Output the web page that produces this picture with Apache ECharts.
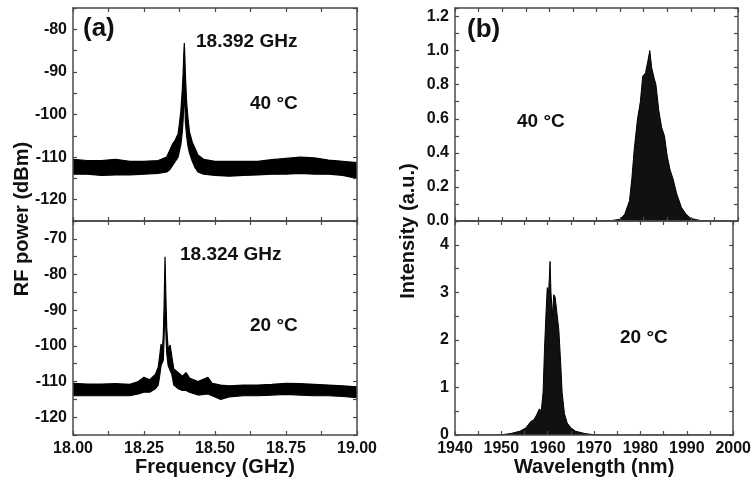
<!DOCTYPE html>
<html><head><meta charset="utf-8">
<script src="https://cdn.jsdelivr.net/npm/echarts@6/dist/echarts.min.js"></script>
<style>html,body{margin:0;padding:0;background:#fff}#c{width:754px;height:480px}</style>
</head><body><div id="c"></div>
<script>
// ---- Data ----
// (a) RF spectrum at 40 °C : upper / lower envelope of the noisy trace (dBm)
const rf40Freq  = [18.00, 18.05, 18.10, 18.15, 18.20, 18.25, 18.30, 18.33, 18.34, 18.35, 18.36, 18.37, 18.375, 18.38, 18.385, 18.388, 18.390, 18.392, 18.394, 18.396, 18.400, 18.405, 18.41, 18.42, 18.43, 18.44, 18.46, 18.50, 18.55, 18.60, 18.65, 18.70, 18.75, 18.80, 18.85, 18.90, 18.95, 19.00];
const rf40Upper = [-110.5, -110.8, -110.8, -110.5, -111.0, -111.0, -110.8, -110.0, -108.5, -107.0, -106.0, -104.5, -102.0, -99.0, -94.0, -90.0, -86.0, -83.2, -87.0, -91.0, -97.0, -101.0, -104.0, -106.5, -108.0, -109.5, -110.5, -111.0, -111.0, -111.0, -111.0, -110.6, -110.3, -110.0, -110.2, -110.7, -111.0, -111.3];
const rf40Lower = [-114.0, -114.0, -114.3, -114.2, -114.2, -114.0, -113.8, -113.5, -113.0, -112.0, -111.0, -110.0, -108.5, -107.0, -104.0, -101.0, -97.0, -95.0, -98.0, -102.0, -105.0, -107.5, -109.0, -111.0, -112.5, -113.5, -114.0, -114.3, -114.5, -114.3, -114.2, -114.0, -114.0, -113.8, -114.0, -114.0, -114.3, -115.0];
// (a) RF spectrum at 20 °C
const rf20Freq  = [18.00, 18.05, 18.10, 18.15, 18.20, 18.23, 18.25, 18.27, 18.29, 18.30, 18.305, 18.31, 18.315, 18.318, 18.321, 18.324, 18.327, 18.33, 18.335, 18.342, 18.348, 18.355, 18.37, 18.385, 18.398, 18.41, 18.44, 18.475, 18.49, 18.52, 18.55, 18.60, 18.65, 18.70, 18.75, 18.80, 18.85, 18.90, 18.95, 19.00];
const rf20Upper = [-110.5, -110.7, -110.7, -110.6, -110.8, -110.0, -108.8, -109.5, -108.0, -106.0, -103.0, -99.5, -101.0, -97.0, -88.0, -75.0, -86.0, -95.0, -101.0, -99.8, -103.0, -106.5, -107.5, -108.5, -107.5, -109.0, -110.0, -108.8, -110.5, -111.0, -111.2, -111.0, -111.0, -110.8, -110.5, -110.6, -110.8, -111.0, -111.2, -111.5];
const rf20Lower = [-114.0, -114.0, -114.0, -114.0, -114.0, -113.5, -113.0, -113.0, -112.0, -111.0, -108.5, -105.5, -106.0, -104.0, -97.0, -88.0, -96.0, -102.0, -105.5, -105.0, -108.0, -111.0, -112.0, -112.5, -112.5, -113.0, -113.8, -113.5, -114.0, -115.0, -114.3, -114.0, -114.0, -113.8, -113.6, -113.8, -114.0, -114.0, -114.2, -114.5];
// (b) optical spectrum envelope at 40 °C (a.u.)
const osa40Wl  = [1940, 1970, 1973, 1975, 1976, 1977, 1977.5, 1978, 1978.7, 1979.3, 1979.8, 1980.4, 1980.9, 1981.3, 1981.7, 1982.2, 1982.6, 1983.2, 1983.8, 1984.4, 1985, 1985.6, 1986.2, 1987, 1988, 1989, 1990, 1992, 1995, 2000];
const osa40Int = [0, 0, 0.002, 0.01, 0.04, 0.12, 0.25, 0.42, 0.6, 0.7, 0.85, 0.87, 0.94, 1.0, 0.9, 0.84, 0.8, 0.65, 0.55, 0.5, 0.38, 0.3, 0.25, 0.16, 0.08, 0.04, 0.015, 0.003, 0, 0];
// (b) optical spectrum envelope at 20 °C (a.u.)
const osa20Wl  = [1940, 1948, 1950, 1952, 1954, 1955.3, 1956.3, 1957, 1957.6, 1958.2, 1958.6, 1959, 1959.3, 1959.6, 1959.9, 1960.2, 1960.5, 1960.7, 1961, 1961.3, 1961.6, 1962, 1962.4, 1962.8, 1963.1, 1963.6, 1964.2, 1965, 1966, 1968, 1970, 1972, 2000];
const osa20Int = [0, 0, 0.005, 0.03, 0.08, 0.15, 0.28, 0.32, 0.42, 0.55, 0.5, 0.9, 1.8, 2.5, 3.1, 3.0, 3.65, 3.0, 2.5, 2.95, 2.9, 2.55, 2.2, 1.5, 0.9, 0.45, 0.25, 0.15, 0.08, 0.03, 0.005, 0, 0];

// Axis ranges / ticks
const rfFreqRange = [18.0, 19.0], rfFreqStep = 0.125, rfFreqLabelStep = 0.25;
const rfTopRange = [-125, -75], rfBotRange = [-125, -65], rfStep = 5, rfLabelStep = 10;
const wlRange = [1940, 2000], wlStep = 5, wlLabelStep = 10;
const intTopRange = [0, 1.25], intTopStep = 0.1, intTopLabelStep = 0.2;
const intBotRange = [0, 4.5], intBotStep = 0.5, intBotLabelStep = 1;

// Texts
const texts = {
  yTitleA: 'RF power (dBm)', yTitleB: 'Intensity (a.u.)',
  xTitleA: 'Frequency (GHz)', xTitleB: 'Wavelength (nm)',
  panelA: '(a)', panelB: '(b)',
  peak40: '18.392 GHz', peak20: '18.324 GHz',
  t40: '40 °C', t20: '20 °C'
};

// ---- Chart ----
const FONT = '"Liberation Sans", Arial, Helvetica, sans-serif';
const AXC = '#4a4a4a', TXT = '#111';
const zip = (a, b) => a.map((v, i) => [v, b[i]]);

function fmt(step, dec) {
  return v => {
    const k = Math.round(v / step);
    return Math.abs(v - k * step) < 1e-6 ? v.toFixed(dec) : '';
  };
}
function baseAxis(grid, range, step, position, labels, labelStep, dec) {
  return {
    type: 'value', gridIndex: grid, min: range[0], max: range[1], interval: step,
    position: position, z: 10,
    axisLine: { show: true, onZero: false, lineStyle: { color: AXC, width: 1.5 } },
    axisTick: { show: true, inside: true, length: 4, lineStyle: { color: AXC, width: 1.2 } },
    splitLine: { show: false },
    axisLabel: labels ? { show: true, margin: 6, color: TXT, fontFamily: FONT, fontWeight: 'bold', fontSize: 16, formatter: fmt(labelStep, dec) } : { show: false }
  };
}

const xAxis = [
  baseAxis(0, rfFreqRange, rfFreqStep, 'bottom', false),
  baseAxis(0, rfFreqRange, rfFreqStep, 'top', false),
  Object.assign(baseAxis(1, rfFreqRange, rfFreqStep, 'bottom', true, rfFreqLabelStep, 2), {
    name: texts.xTitleA, nameLocation: 'middle', nameGap: 22,
    nameTextStyle: { color: TXT, fontFamily: FONT, fontWeight: 'bold', fontSize: 20 } }),
  baseAxis(1, rfFreqRange, rfFreqStep, 'top', false),
  baseAxis(2, wlRange, wlStep, 'bottom', false),
  baseAxis(2, wlRange, wlStep, 'top', false),
  Object.assign(baseAxis(3, wlRange, wlStep, 'bottom', true, wlLabelStep, 0), {
    name: texts.xTitleB, nameLocation: 'middle', nameGap: 22,
    nameTextStyle: { color: TXT, fontFamily: FONT, fontWeight: 'bold', fontSize: 20 } }),
  baseAxis(3, wlRange, wlStep, 'top', false)
];
const yAxis = [
  baseAxis(0, rfTopRange, rfStep, 'left', true, rfLabelStep, 0),
  baseAxis(0, rfTopRange, rfStep, 'right', false),
  baseAxis(1, rfBotRange, rfStep, 'left', true, rfLabelStep, 0),
  baseAxis(1, rfBotRange, rfStep, 'right', false),
  baseAxis(2, intTopRange, intTopStep, 'left', true, intTopLabelStep, 1),
  baseAxis(2, intTopRange, intTopStep, 'right', false),
  baseAxis(3, intBotRange, intBotStep, 'left', true, intBotLabelStep, 0),
  baseAxis(3, intBotRange, intBotStep, 'right', false)
];

// noisy trace drawn as a black band between its upper and lower envelope:
// upper envelope filled black down to the axis, lower envelope masked white below it
function band(xi, yi, xs, up, lo) {
  return [
    { type: 'line', xAxisIndex: xi, yAxisIndex: yi, data: zip(xs, up),
      showSymbol: false, symbol: 'none', lineStyle: { color: '#000', width: 1.2 },
      areaStyle: { color: '#000', opacity: 1, origin: 'start' }, z: 2 },
    { type: 'line', xAxisIndex: xi, yAxisIndex: yi, data: zip(xs, lo),
      showSymbol: false, symbol: 'none', lineStyle: { color: '#000', width: 1.2 },
      areaStyle: { color: '#fff', opacity: 1, origin: 'start' }, z: 3 }
  ];
}
function spec(xi, yi, xs, ys) {
  return { type: 'line', xAxisIndex: xi, yAxisIndex: yi, data: zip(xs, ys),
    showSymbol: false, symbol: 'none', lineStyle: { color: '#000', width: 1 },
    areaStyle: { color: '#111', opacity: 1, origin: 'start' }, z: 3 };
}

const series = [].concat(
  band(0, 0, rf40Freq, rf40Upper, rf40Lower),
  band(2, 2, rf20Freq, rf20Upper, rf20Lower),
  [spec(4, 4, osa40Wl, osa40Int), spec(6, 6, osa20Wl, osa20Int)]
);

function txt(x, y, s, size) {
  return { type: 'text', x: x, y: y, z: 20,
    style: { text: s, fill: TXT, font: 'bold ' + size + 'px ' + FONT, textAlign: 'left', textVerticalAlign: 'middle' } };
}

const chart = echarts.init(document.getElementById('c'), null, { renderer: 'canvas' });
chart.setOption({
  animation: false,
  backgroundColor: '#fff',
  grid: [
    { left: 73, top: 8, width: 284, height: 213 },
    { left: 73, top: 221, width: 284, height: 214 },
    { left: 455, top: 8, width: 283, height: 213 },
    { left: 455, top: 221, width: 283, height: 214 }
  ],
  xAxis: xAxis, yAxis: yAxis, series: series,
  graphic: [
    txt(83, 29, texts.panelA, 26),
    txt(467, 30, texts.panelB, 26),
    txt(196, 42, texts.peak40, 19),
    txt(250, 104, texts.t40, 19),
    txt(180, 255, texts.peak20, 19),
    txt(250, 326, texts.t20, 19),
    txt(517, 122, texts.t40, 19),
    txt(620, 338, texts.t20, 19),
    { type: 'text', x: 22, y: 219, rotation: Math.PI / 2, z: 20,
      style: { text: texts.yTitleA, fill: TXT, font: 'bold 20px ' + FONT, textAlign: 'center', textVerticalAlign: 'middle' } },
    { type: 'text', x: 408, y: 231, rotation: Math.PI / 2, z: 20,
      style: { text: texts.yTitleB, fill: TXT, font: 'bold 20px ' + FONT, textAlign: 'center', textVerticalAlign: 'middle' } }
  ]
});
</script></body></html>
